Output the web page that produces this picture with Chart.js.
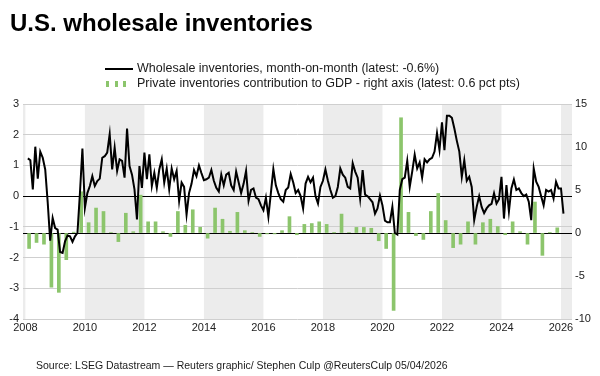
<!DOCTYPE html>
<html>
<head>
<meta charset="utf-8">
<script src="https://cdn.jsdelivr.net/npm/chart.js@4.4.1/dist/chart.umd.min.js"></script>
<style>
  html, body { margin: 0; padding: 0; background: #fff; }
  canvas { display: block; }
</style>
</head>
<body>
<canvas id="chart" width="600" height="376"></canvas>
<script>

// monthly series, first value = Feb 2008
const lineStart = [2008, 2];
const inventoriesMoM = [
  1.23, 1.17, 0.22, 1.61, 0.57, 1.45, 1.25, 0.87, -0.2, -1.45,
  -0.71, -1.04, -1.09, -1.82, -1.85, -1.47, -1.28, -1.31, -1.49, -1.31,
  -1.2, 0.1, 1.55, -0.38, 0.1, 0.33, 0.65, 0.33, 0.49, 0.57,
  1.25, 1.3, 1.42, 2.02, 0.87, 1.58, 0.82, 1.2, 1.15, 0.6,
  2.2, 0.98, 0.7, 0.22, -0.76, 0.98, 0.27, 1.42, 0.55, 1.36,
  0.33, 0.76, 0.27, 0.87, 1.2, 0.44, 0.9, 0.22, 0.9, 0.55,
  0.82, -0.16, 0.44, 0.3, -0.6, 0.1, 0.4, 0.85, 0.65, 1.0,
  0.75, 0.52, 0.55, 0.6, 0.85, 0.5, 0.27, 0.15, 0.7, 0.35,
  0.7, 0.76, 0.35, 0.2, 0.8, 0.45, 0.1, 0.4, 0.82, -0.15,
  0.2, 0.25, -0.05, -0.1, -0.3, -0.46, -0.05, -0.67, 0.1, 0.88,
  0.35, 0.1, -0.1, -0.18, 0.2, 0.28, 0.72, 0.45, 0.1, 0.2,
  0.0, -0.4, 0.41, 0.63, 0.45, 0.6, 0.0, -0.24, 0.3, 0.5,
  0.87, 0.5, 0.2, -0.05, 0.0, 0.3, 0.9, 0.7, 0.6, 0.3,
  0.25, 1.07, 0.8, 0.6, -0.08, 0.85, 0.05, 0.0, -0.1, -0.2,
  -0.57, -0.4, 0.02, -0.3, -0.8, -0.85, -0.85, -0.35, -1.2, -1.25,
  0.2, 0.55, 0.6, 1.15, 0.3, 0.8, 1.35, 0.9, 1.1, 0.6,
  1.2, 1.1, 1.2, 1.25, 1.45, 2.05, 1.5, 2.4, 1.5, 2.62,
  2.62, 2.55, 2.2, 1.8, 1.45, 0.63, 1.17, 0.5, 0.63, 0.3,
  -0.78, -0.35, 0.0, -0.35, -0.55, -0.4, -0.3, -0.25, 0.09, -0.24,
  -0.1, 0.63, -0.73, 0.36, -0.5, 0.25, 0.54, 0.2, 0.25, 0.1,
  0.0, 0.05, -0.18, -0.78, 0.9, 0.47, 0.3, 0.0, -0.3, 0.2,
  0.15, 0.2, -0.08, 0.47, 0.25, 0.25, -0.57
];

// quarterly series, first value = Q1 2008
const barStartYear = 2008;
const gdpContribution = [
  -1.8, -1.1, -1.3, -6.3, -6.9, -3.1, 0.1, 4.8,
  1.2, 2.9, 2.5, 0.05, -1.0, 2.3, 0.15, 4.4,
  1.3, 1.3, 0.15, -0.4, 2.5, 0.9, 2.7, 0.66,
  -0.6, 2.9, 1.6, 0.2, 2.4, 0.27, 0.05, -0.4,
  -0.1, -0.1, 0.27, 1.9, -0.2, 1.0, 1.1, 1.3,
  1.0, 0.02, 2.2, 0.05, 0.65, 0.65, 0.55, -0.9,
  -1.8, -9.0, 13.4, 2.4, -0.3, -0.75, 2.5, 4.6,
  1.45, -1.7, -1.3, 1.3, -1.3, 1.2, 1.6, 0.75,
  -0.2, 1.3, 0.15, -1.3, 3.6, -2.6, 0.02, 0.6
];

const yearTicks = [2008, 2010, 2012, 2014, 2016, 2018, 2020, 2022, 2024, 2026];
const leftTicks = [-4, -3, -2, -1, 0, 1, 2, 3];
const rightTicks = [-10, -5, 0, 5, 10, 15];
const shadedStarts = [2006, 2010, 2014, 2018, 2022, 2026];

const titleText = 'U.S. wholesale inventories';
const lineLabel = 'Wholesale inventories, month-on-month (latest: -0.6%)';
const barLabel = 'Private inventories contribution to GDP - right axis (latest: 0.6 pct pts)';
const sourceText = 'Source: LSEG Datastream \u2014 Reuters graphic/ Stephen Culp @ReutersCulp 05/04/2026';

const GREEN = '#8cc56c';
const FONT = '"Liberation Sans", Arial, sans-serif';

// build points (decimal years)
let linePoints = inventoriesMoM.map(function(v, i) {
  return { x: lineStart[0] + (lineStart[1] - 1 + i) / 12, y: v };
});
let barPoints = gdpContribution.map(function(v, q) {
  return { x: barStartYear + 0.125 + q * 0.25, y: v };
});

// grey bands every other two years
const bandsPlugin = {
  id: 'bands',
  beforeDraw: function(chart) {
    let a = chart.chartArea, x = chart.scales.x, ctx = chart.ctx;
    ctx.save();
    ctx.fillStyle = '#ececec';
    shadedStarts.forEach(function(s) {
      let x0 = Math.max(a.left, x.getPixelForValue(s));
      let x1 = Math.min(a.right, x.getPixelForValue(s + 2));
      if (x1 > x0) ctx.fillRect(x0, a.top, x1 - x0, a.bottom - a.top);
    });
    ctx.restore();
  }
};

// title, legend and source line
const textPlugin = {
  id: 'texts',
  afterDraw: function(chart) {
    let ctx = chart.ctx;
    ctx.save();
    ctx.fillStyle = '#000';
    ctx.textBaseline = 'alphabetic';
    ctx.font = 'bold 24px ' + FONT;
    ctx.fillText(titleText, 10, 31);

    // legend
    ctx.strokeStyle = '#000';
    ctx.lineWidth = 2;
    ctx.beginPath();
    ctx.moveTo(105, 69);
    ctx.lineTo(133, 69);
    ctx.stroke();
    ctx.fillStyle = GREEN;
    [106, 115, 123].forEach(function(px) { ctx.fillRect(px, 81, 3, 6); });

    ctx.fillStyle = '#1a1a1a';
    ctx.font = '12.5px ' + FONT;
    ctx.textBaseline = 'middle';
    ctx.fillText(lineLabel, 137, 69);
    ctx.fillText(barLabel, 137, 84);

    ctx.font = '10.5px ' + FONT;
    ctx.fillText(sourceText, 36, 366);
    ctx.restore();
  }
};

let tickFont = { family: FONT, size: 11 };

new Chart(document.getElementById('chart'), {
  type: 'bar',
  data: {
    datasets: [
      {
        type: 'line',
        label: lineLabel,
        data: linePoints,
        yAxisID: 'y',
        borderColor: '#000',
        borderWidth: 2,
        pointRadius: 0,
        tension: 0,
        order: 1
      },
      {
        type: 'bar',
        label: barLabel,
        data: barPoints,
        yAxisID: 'y2',
        backgroundColor: GREEN,
        barThickness: 3,
        order: 2
      }
    ]
  },
  options: {
    responsive: false,
    animation: false,
    layout: { padding: { top: 104 } },
    plugins: {
      legend: { display: false },
      tooltip: { enabled: false }
    },
    scales: {
      x: {
        type: 'linear',
        min: 2007.92,
        max: 2026.37,
        offset: false,
        grid: { display: false, drawTicks: false },
        border: { display: false },
        ticks: {
          font: tickFont, color: '#222', padding: 2,
          maxRotation: 0, autoSkip: false,
          callback: function(v) { return String(v); }
        },
        afterBuildTicks: function(s) { s.ticks = yearTicks.map(function(v) { return { value: v }; }); },
        afterFit: function(s) { s.height = 57; }
      },
      y: {
        position: 'left',
        min: -4,
        max: 3,
        grid: {
          color: function(c) { return c.tick.value === 0 ? '#000' : '#cfcfcf'; },
          drawTicks: false
        },
        border: { display: false },
        ticks: { font: tickFont, color: '#222', padding: 4 },
        afterBuildTicks: function(s) { s.ticks = leftTicks.map(function(v) { return { value: v }; }); },
        afterFit: function(s) { s.width = 23; }
      },
      y2: {
        position: 'right',
        min: -10,
        max: 15,
        grid: {
          color: function(c) { return c.tick.value === 0 ? '#000' : 'rgba(0,0,0,0)'; },
          drawTicks: false
        },
        border: { display: false },
        ticks: { font: tickFont, color: '#222', padding: 3 },
        afterBuildTicks: function(s) { s.ticks = rightTicks.map(function(v) { return { value: v }; }); },
        afterFit: function(s) { s.width = 28; }
      }
    }
  },
  plugins: [bandsPlugin, textPlugin]
});
</script>
</body>
</html>
